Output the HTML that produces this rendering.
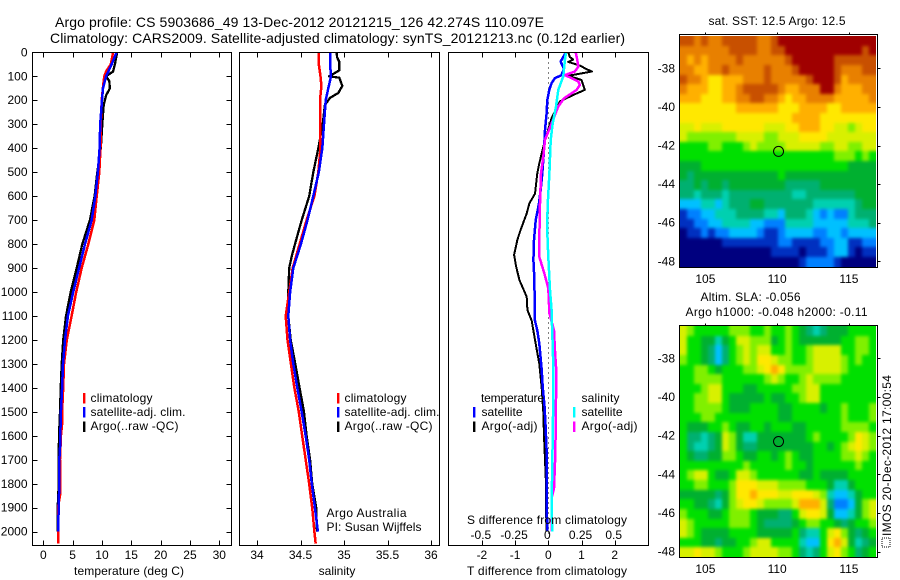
<!DOCTYPE html>
<html>
<head>
<meta charset="utf-8">
<title>Argo profile 5903686_49</title>
<style>
html,body{margin:0;padding:0;background:#fff;}
svg{display:block;}
text{font-family:"Liberation Sans",sans-serif;font-size:12px;fill:#000;}
</style>
</head>
<body>
<svg id="chart" xmlns="http://www.w3.org/2000/svg" width="900" height="580" viewBox="0 0 900 580">
  <defs>
    <filter id="cell-soften" filterUnits="userSpaceOnUse" x="660" y="0" width="240" height="580" color-interpolation-filters="sRGB">
      <feGaussianBlur stdDeviation="1.5"/>
    </filter>
  </defs>
  <rect x="0" y="0" width="900" height="580" fill="#fff"/>
  <text x="55" y="27" textLength="489" style="font-size:14px">Argo profile: CS 5903686_49 13-Dec-2012 20121215_126 42.274S 110.097E</text>
  <text x="50" y="43" textLength="575" style="font-size:14px">Climatology: CARS2009. Satellite-adjusted climatology: synTS_20121213.nc (0.12d earlier)</text>
  <g id="plots"></g>

  <text x="129" y="575" text-anchor="middle" textLength="110">temperature (deg C)</text>
  <text x="337" y="575" text-anchor="middle">salinity</text>
  <text x="547" y="575" text-anchor="middle" textLength="160">T difference from climatology</text>
  <text x="547" y="524" text-anchor="middle" textLength="160">S difference from climatology</text>

  <g>
    <rect x="83" y="393" width="2.4" height="10.5" fill="#f00"/>
    <text x="90.5" y="402" textLength="62">climatology</text>
    <rect x="83" y="407" width="2.4" height="10.5" fill="#00f"/>
    <text x="90.5" y="416" textLength="95">satellite-adj. clim.</text>
    <rect x="83" y="421.5" width="2.4" height="10.5" fill="#000"/>
    <text x="90.5" y="430" textLength="88">Argo(..raw -QC)</text>
  </g>
  <g>
    <rect x="337" y="393" width="2.4" height="10.5" fill="#f00"/>
    <text x="344.5" y="402" textLength="62">climatology</text>
    <rect x="337" y="407" width="2.4" height="10.5" fill="#00f"/>
    <text x="344.5" y="416" textLength="95">satellite-adj. clim.</text>
    <rect x="337" y="421.5" width="2.4" height="10.5" fill="#000"/>
    <text x="344.5" y="430" textLength="88">Argo(..raw -QC)</text>
    <text x="326.5" y="517" textLength="80">Argo Australia</text>
    <text x="326.5" y="531" textLength="95">PI: Susan Wijffels</text>
  </g>
  <g>
    <text x="481" y="402" textLength="63">temperature</text>
    <rect x="473" y="407" width="2.4" height="10.5" fill="#00f"/>
    <text x="481.5" y="416" textLength="41">satellite</text>
    <rect x="473" y="421.5" width="2.4" height="10.5" fill="#000"/>
    <text x="481.5" y="430" textLength="56">Argo(-adj)</text>
    <text x="581.5" y="402" textLength="38">salinity</text>
    <rect x="573" y="407" width="2.4" height="10.5" fill="#0ff"/>
    <text x="581.5" y="416" textLength="41">satellite</text>
    <rect x="573" y="421.5" width="2.4" height="10.5" fill="#f0f"/>
    <text x="581.5" y="430" textLength="56">Argo(-adj)</text>
  </g>

  <text x="777" y="25" text-anchor="middle" textLength="137">sat. SST: 12.5 Argo: 12.5</text>
  <text x="700.5" y="301" textLength="100">Altim. SLA: -0.056</text>
  <text x="685.5" y="316" textLength="182">Argo h1000: -0.048 h2000: -0.11</text>

  <rect x="882" y="538" width="8" height="9" fill="none" stroke="#000" stroke-width="1" stroke-dasharray="1 1"/>
  <text transform="translate(891 536) rotate(-90)" textLength="161">IMOS 20-Dec-2012 17:00:54</text>
</svg>
<script>
// ---- tick labels ----
const depthTicks = [0,100,200,300,400,500,600,700,800,900,1000,1100,1200,1300,1400,1500,1600,1700,1800,1900,2000];
const tempTicks = [0,5,10,15,20,25,30];
const salTicks = [34,34.5,35,35.5,36];
const tDiffTicks = [-2,-1,0,1,2];
const sDiffTicks = [-0.5,-0.25,0,0.25,0.5];
const lonTicks = [105,110,115];
const latTicks = [-38,-40,-42,-44,-46,-48];
const argoLon = 110.097;
const argoLat = -42.274;

// ---- temperature profiles ----
const tempClimDepth = [0,50,80,100,140,200,300,400,500,600,700,800,900,1000,1100,1200,1300,1400,1500,1550,1600,1700,1800,1850,1900,2000,2050];
const tempClimValues = [11.9,11.5,10.7,10.4,10.2,9.95,9.8,9.75,9.55,9.1,8.7,7.67,6.55,5.6,4.83,4.0,3.53,3.4,3.2,3.2,3.0,2.85,2.85,2.85,2.5,2.5,2.5];
const tempSatDepth = [0,50,100,150,200,300,400,500,600,700,800,900,1000,1100,1200,1300,1400,1500,1600,1650,1700,1800,1900,2000];
const tempSatValues = [12.5,11.65,10.7,10.17,10.0,9.7,9.6,9.3,8.87,8.25,7.1,6.1,5.1,4.2,3.7,3.35,3.2,3.0,2.9,2.85,2.73,2.73,2.6,2.55];
const tempArgoDepth = [0,50,80,100,120,150,180,220,300,400,500,600,700,800,900,1000,1100,1200,1300,1400,1500,1600,1700,1800,1900,2000];
const tempArgoValues = [12.6,12.2,11.9,10.7,11.25,11.35,10.7,10.3,10.05,9.8,9.2,8.75,7.95,6.65,5.7,4.67,3.87,3.4,3.13,2.96,2.85,2.67,2.62,2.62,2.45,2.45];

// ---- salinity profiles ----
const salClimDepth = [0,50,100,140,200,300,400,500,600,700,800,900,1000,1100,1200,1300,1400,1500,1600,1700,1800,1900,2000,2050];
const salClimValues = [34.71,34.71,34.73,34.74,34.724,34.724,34.73,34.705,34.66,34.57,34.49,34.41,34.37,34.33,34.35,34.39,34.43,34.48,34.52,34.56,34.6,34.635,34.66,34.675];
const salSatDepth = [0,50,100,150,200,300,400,500,600,700,800,900,1000,1100,1200,1300,1400,1500,1600,1700,1800,1900,2000];
const salSatValues = [34.84,34.84,34.85,34.82,34.79,34.77,34.75,34.71,34.647,34.58,34.505,34.417,34.38,34.36,34.38,34.417,34.463,34.514,34.56,34.6,34.63,34.665,34.7];
const salArgoDepth = [0,20,40,75,85,100,106,140,170,190,220,300,400,500,600,700,800,850,900,1000,1100,1200,1300,1400,1500,1600,1700,1800,1900,2000];
const salArgoValues = [34.916,34.92,34.946,34.946,34.9,34.83,34.946,34.98,34.935,34.84,34.78,34.755,34.705,34.647,34.6,34.514,34.437,34.4,34.37,34.36,34.36,34.387,34.44,34.49,34.54,34.57,34.61,34.635,34.68,34.69];

// ---- differences from climatology ----
const tDiffSatDepth = [0,39,67,95,108,129,157,199,255,324,408,505,574,630,700,783,866,950,1075,1120,1160,1215,1325,1395,1480,1560,1660,1760,1870,2000];
const tDiffSatValues = [0.53,0.37,0.47,0.40,0.20,0.10,0.03,-0.03,-0.05,-0.10,-0.13,-0.18,-0.23,-0.28,-0.38,-0.43,-0.45,-0.42,-0.41,-0.40,-0.33,-0.27,-0.20,-0.17,-0.11,-0.08,-0.05,-0.05,-0.05,-0.03];
const tDiffArgoDepth = [0,20,30,40,55,70,80,88,98,115,157,178,205,275,366,463,505,590,630,672,740,782,845,893,950,1020,1075,1120,1200,1300,1400,1500,1600,1700,1800,1900,2000];
const tDiffArgoValues = [0.60,0.65,0.75,0.60,0.95,1.15,1.31,1.0,0.6,1.0,1.10,0.75,0.35,0.10,-0.10,-0.27,-0.33,-0.40,-0.57,-0.65,-0.83,-0.93,-1.03,-0.97,-0.87,-0.65,-0.63,-0.5,-0.40,-0.27,-0.2,-0.15,-0.13,-0.1,-0.07,-0.07,-0.05];
const sDiffSatDepth = [0,32,100,157,226,296,366,505,644,741,853,992,1075,1100,1170,1310,1450,1590,1730,1870,2000];
const sDiffSatValues = [0.133,0.125,0.113,0.075,0.058,0.033,0.018,0.008,-0.005,-0.008,0,0.013,0.025,0.025,0.03,0.038,0.038,0.033,0.03,0.025,0.03];
const sDiffArgoDepth = [0,32,60,80,95,108,122,136,157,192,226,296,366,435,505,644,783,853,922,984,1089,1160,1240,1330,1450,1590,1680,1820,1860,2000];
const sDiffArgoValues = [0.206,0.218,0.226,0.2,0.125,0.176,0.226,0.238,0.213,0.118,0.075,0.025,-0.025,-0.038,-0.055,-0.063,-0.068,-0.068,-0.03,0,0.008,0.043,0.05,0.06,0.058,0.055,0.053,0.043,0.025,0.025];

// ---- map cells, north to south, as colour-scale levels ----
const sstCells = [
[13,13,12,13,12,12,13,13,13,13,13,12,12,13,14,14,14,14,14,14,14,14,14,14,14,14,14,14],
[12,12,12,12,12,12,12,13,13,13,13,12,12,13,13,14,14,14,14,14,14,14,14,14,14,14,13,14],
[12,11,12,11,12,12,12,12,13,12,12,12,12,12,12,13,14,14,14,14,14,14,13,13,13,13,13,13],
[12,12,11,11,12,12,13,12,12,12,12,12,13,12,12,12,13,14,14,14,14,14,13,12,12,12,13,13],
[13,12,12,11,10,10,11,11,11,12,12,12,13,12,12,12,12,12,13,14,14,14,13,11,12,12,12,12],
[12,11,11,11,10,10,11,11,12,13,13,13,13,13,12,11,11,12,12,12,14,14,12,11,11,11,12,12],
[11,11,11,10,10,10,11,11,12,12,13,13,12,12,11,10,11,11,12,12,12,12,11,11,11,11,11,12],
[10,10,10,10,10,10,10,10,11,11,11,11,11,11,10,10,10,11,11,11,11,10,10,11,11,11,11,11],
[10,10,10,10,10,10,10,10,10,10,10,10,10,10,10,10,11,11,11,11,10,10,10,10,10,10,10,10],
[9,9,10,9,9,9,10,10,10,10,10,10,9,9,9,10,10,11,11,11,10,10,9,9,8,9,10,10],
[9,8,8,8,8,8,8,8,9,9,9,9,8,8,9,9,9,10,10,10,10,9,9,9,9,9,9,9],
[7,7,7,7,8,8,7,7,7,8,9,8,8,8,8,9,9,9,9,9,8,8,9,9,8,8,9,9],
[7,7,7,7,7,7,7,7,7,7,7,7,7,7,7,7,7,7,7,7,7,7,8,8,8,7,8,7],
[6,6,6,7,7,7,7,7,7,7,7,7,7,7,7,7,7,7,7,7,7,7,7,7,6,6,6,6],
[6,5,6,6,6,6,6,6,6,6,6,6,6,6,7,6,6,6,6,6,6,6,6,6,6,6,6,6],
[5,5,6,5,6,6,5,6,6,6,6,6,6,6,6,5,5,5,5,5,6,6,6,6,6,6,6,6],
[5,5,4,5,5,5,4,5,5,5,5,5,5,5,5,5,4,4,5,5,5,5,5,5,5,6,6,6],
[3,3,3,4,4,3,4,5,5,5,6,6,5,5,5,5,5,5,5,4,4,4,4,4,4,5,6,6],
[1,2,2,3,3,4,4,4,5,5,5,5,4,4,3,5,5,5,4,3,2,3,2,2,4,5,5,5],
[1,1,2,2,3,3,4,4,4,4,3,3,2,2,2,4,4,4,4,3,3,3,3,3,4,4,4,5],
[0,1,1,2,1,2,2,3,3,3,3,2,1,1,2,3,3,3,3,2,2,3,3,2,3,3,3,3],
[0,0,0,0,0,0,1,1,1,1,1,1,1,1,2,2,1,1,1,1,2,2,3,3,1,1,2,2],
[0,0,0,0,0,0,0,0,0,0,0,0,0,1,1,1,1,0,1,1,1,2,3,3,1,0,1,1],
[0,0,0,0,0,0,0,0,0,0,0,0,0,0,0,0,0,1,2,2,2,2,1,0,0,0,0,0]
];
const slaCells = [
[9,8,7,7,7,7,7,8,8,8,7,7,8,7,7,8,7,6,5,4,5,6,6,6,7,7,7,7],
[9,7,7,6,6,4,6,7,9,9,8,8,8,6,7,8,7,6,6,6,6,6,6,7,7,8,8,7],
[9,7,7,6,5,3,5,7,8,9,8,9,9,7,7,8,7,7,8,9,9,9,9,7,7,8,8,7],
[8,7,7,6,5,3,5,7,8,9,8,10,10,9,8,8,7,7,8,9,9,9,9,8,7,8,7,7],
[7,7,8,8,7,6,7,7,7,8,8,9,10,11,10,8,8,8,8,9,9,9,9,8,7,7,7,7],
[7,7,8,8,8,8,7,7,7,7,7,7,8,9,8,7,7,8,9,8,8,8,8,7,7,7,7,7],
[7,7,7,8,9,9,7,7,7,6,6,7,7,7,7,7,8,8,9,9,7,7,7,7,7,7,7,7],
[7,7,8,8,9,9,7,6,6,6,6,6,7,6,6,7,7,8,9,9,7,7,7,7,7,7,7,7],
[7,7,8,8,8,8,7,6,6,6,7,7,7,7,6,6,7,7,7,7,6,7,7,8,7,7,7,8],
[7,7,7,8,8,7,7,7,7,7,7,7,7,7,6,6,7,7,7,7,7,7,7,8,7,7,7,8],
[7,6,6,6,7,7,8,7,6,6,7,7,6,7,7,7,6,6,7,7,7,7,7,8,8,8,8,7],
[7,5,5,4,5,6,9,8,6,4,4,6,6,6,6,6,6,6,7,8,7,7,7,7,8,10,9,8],
[7,5,4,4,5,6,9,8,6,5,5,6,6,6,6,6,6,6,6,7,7,6,7,8,9,10,9,8],
[7,6,5,5,6,6,8,8,7,6,6,7,7,6,7,8,7,6,6,7,7,7,7,8,8,9,8,7],
[7,7,7,7,7,7,7,7,7,8,7,7,7,7,7,8,7,7,6,7,7,7,7,7,7,8,7,7],
[7,8,9,9,7,6,6,7,9,9,8,7,7,7,7,7,7,6,6,7,6,6,6,6,7,7,7,7],
[7,7,8,8,7,7,7,8,10,10,10,9,9,9,8,8,8,8,7,7,7,6,4,4,6,7,7,7],
[6,6,6,6,6,5,6,8,10,10,11,10,10,10,9,9,10,10,10,9,8,4,3,3,4,6,7,7],
[7,7,6,6,5,4,6,8,9,10,10,9,8,8,8,8,9,11,11,11,9,5,2,2,3,6,8,9],
[8,7,7,7,6,6,7,8,8,8,7,6,6,6,5,5,7,9,10,10,9,6,3,3,4,6,8,9],
[9,8,7,7,7,7,7,8,8,8,7,6,5,5,5,5,6,7,8,8,7,7,6,5,6,7,7,8],
[9,8,7,6,6,6,6,7,7,7,7,6,6,6,6,6,7,5,4,4,7,9,10,8,6,5,6,7],
[7,7,7,6,6,5,6,6,7,7,8,9,9,7,7,7,7,4,3,3,7,10,11,9,6,4,5,6],
[9,9,10,9,9,8,7,7,7,8,9,9,9,9,8,8,7,5,4,5,7,9,10,8,7,5,6,7]
];

// ---- drawing ----
const SVGNS = 'http://www.w3.org/2000/svg';
const plots = document.getElementById('plots');
const COLORS = ['#00007f','#0030c0','#0080ff','#00c0ff','#00d0b0','#00b070','#00b030','#00e000','#80f000','#d8f000','#ffe800','#ffb000','#e88000','#c85000','#a00000'];

function mk(tag, parent) {
  const el = document.createElementNS(SVGNS, tag);
  parent.appendChild(el);
  return el;
}
function line(parent, x1, y1, x2, y2) {
  const el = mk('line', parent);
  el.setAttribute('x1', x1); el.setAttribute('y1', y1);
  el.setAttribute('x2', x2); el.setAttribute('y2', y2);
  el.setAttribute('stroke', '#000');
  el.setAttribute('stroke-width', 1);
  el.setAttribute('shape-rendering', 'crispEdges');
  return el;
}
function label(parent, str, x, y, anchor) {
  const el = mk('text', parent);
  el.setAttribute('x', x); el.setAttribute('y', y);
  el.setAttribute('text-anchor', anchor);
  el.textContent = str;
  return el;
}
function frame(parent, b) {
  const el = mk('rect', parent);
  el.setAttribute('x', b.left); el.setAttribute('y', b.top);
  el.setAttribute('width', b.right - b.left);
  el.setAttribute('height', b.bottom - b.top);
  el.setAttribute('fill', 'none');
  el.setAttribute('stroke', '#000');
  el.setAttribute('shape-rendering', 'crispEdges');
  return el;
}
function linear(d0, d1, r0, r1) {
  return v => r0 + (v - d0) * (r1 - r0) / (d1 - d0);
}

const depthY = linear(0, 2000, 52.3, 531.7);
const PANEL_TOP = 52.5, PANEL_BOTTOM = 545.5;

function drawProfile(parent, name, xs, depths, values, color, width) {
  const pts = depths.map((d, i) => xs(values[i]).toFixed(1) + ',' + depthY(d).toFixed(1)).join(' ');
  const el = mk('polyline', parent);
  
  
  el.setAttribute('points', pts);
  el.setAttribute('fill', 'none');
  el.setAttribute('stroke', color);
  el.setAttribute('stroke-width', width);
  el.setAttribute('stroke-linejoin', 'round');
  el.setAttribute('shape-rendering', 'crispEdges');
}
function xTicks(parent, b, ticks, xs, fmt, baseline) {
  ticks.forEach(t => {
    const x = Math.round(xs(t)) + 0.5;
    const top = line(parent, x, b.top, x, b.top + 5);
    
    
    const bot = line(parent, x, b.bottom - 5, x, b.bottom);
    
    
    const lab = label(parent, fmt(t), xs(t), baseline, 'middle');
    
    
  });
}

// temperature panel
const p1 = {left:32.5, right:231.5, top:PANEL_TOP, bottom:PANEL_BOTTOM};
const tempX = linear(0, 30, 43.3, 219.3);
const g1 = mk('g', plots);


drawProfile(g1, 'temperature-argo-line', tempX, tempArgoDepth, tempArgoValues, '#000', 2.3);
drawProfile(g1, 'temperature-climatology-line', tempX, tempClimDepth, tempClimValues, '#f00', 2.5);
drawProfile(g1, 'temperature-satellite-line', tempX, tempSatDepth, tempSatValues, '#00f', 2.5);
frame(g1, p1);
xTicks(g1, p1, tempTicks, tempX, String, 559);
depthTicks.forEach(d => {
  const y = Math.round(depthY(d)) + 0.5;
  const l = line(g1, p1.left, y, p1.left + 5, y);
  
  
  const r = line(g1, p1.right - 5, y, p1.right, y);
  
  
  const lab = label(g1, String(d), 27.5, depthY(d) + 4, 'end');
  
  
});

// salinity panel
const p2 = {left:239.5, right:439.5, top:PANEL_TOP, bottom:PANEL_BOTTOM};
const salX = linear(34, 36, 257, 431);
const g2 = mk('g', plots);


drawProfile(g2, 'salinity-argo-line', salX, salArgoDepth, salArgoValues, '#000', 2.3);
drawProfile(g2, 'salinity-climatology-line', salX, salClimDepth, salClimValues, '#f00', 2.5);
drawProfile(g2, 'salinity-satellite-line', salX, salSatDepth, salSatValues, '#00f', 2.5);
frame(g2, p2);
xTicks(g2, p2, salTicks, salX, String, 559);

// difference panel
const p3 = {left:448.5, right:648.5, top:PANEL_TOP, bottom:PANEL_BOTTOM};
const tDiffX = linear(-2, 2, 481.9, 614.7);
const sDiffX = linear(-0.5, 0.5, 481.9, 614.7);
const g3 = mk('g', plots);


const zero = line(g3, tDiffX(0), p3.top, tDiffX(0), p3.bottom);


zero.setAttribute('stroke-dasharray', '1 4');
drawProfile(g3, 'difference-t-argo-line', tDiffX, tDiffArgoDepth, tDiffArgoValues, '#000', 2);
drawProfile(g3, 'difference-t-satellite-line', tDiffX, tDiffSatDepth, tDiffSatValues, '#00f', 2.5);
drawProfile(g3, 'difference-s-argo-line', sDiffX, sDiffArgoDepth, sDiffArgoValues, '#f0f', 2.5);
drawProfile(g3, 'difference-s-satellite-line', sDiffX, sDiffSatDepth, sDiffSatValues, '#0ff', 2.5);
frame(g3, p3);
xTicks(g3, p3, tDiffTicks, tDiffX, String, 559);
sDiffTicks.forEach(t => {
  const lab = label(g3, String(t), sDiffX(t) - 1, 539, 'middle');
  
  
});

// maps
const LON_MIN = 103.2, LON_MAX = 116.9, LAT_TOP = -36.33, LAT_BOTTOM = -48.28;
function drawMap(name, cellName, clipId, cells, frameBox, imgTop, imgBottom, lat38Y, lat48Y, lonBaseline) {
  const g = mk('g', plots);
  
  
  const lonX = linear(105, 115, 705.4, 848.9);
  const latY = linear(-38, -48, lat38Y, lat48Y);
  const rows = cells.length, cols = cells[0].length;
  const dLon = (LON_MAX - LON_MIN) / cols;
  const dLat = (LAT_BOTTOM - LAT_TOP) / rows;

  const clip = mk('clipPath', g);
  clip.setAttribute('id', clipId);
  const clipRect = mk('rect', clip);
  clipRect.setAttribute('x', frameBox.left);
  clipRect.setAttribute('y', imgTop);
  clipRect.setAttribute('width', 876 - frameBox.left);
  clipRect.setAttribute('height', imgBottom - imgTop);

  const clipped = mk('g', g);
  clipped.setAttribute('clip-path', 'url(#' + clipId + ')');
  const soft = mk('g', clipped);
  soft.setAttribute('filter', 'url(#cell-soften)');

  // edge cells run past the clip so the softening does not fade at the border
  const BLEED = 8;
  cells.forEach((row, r) => row.forEach((v, c) => {
    const x0 = Math.round(lonX(LON_MIN + c * dLon)) - (c === 0 ? BLEED : 0);
    const x1 = Math.round(lonX(LON_MIN + (c + 1) * dLon)) + (c === cols - 1 ? BLEED : 0);
    const y0 = Math.round(latY(LAT_TOP + r * dLat)) - (r === 0 ? BLEED : 0);
    const y1 = Math.round(latY(LAT_TOP + (r + 1) * dLat)) + (r === rows - 1 ? BLEED : 0);
    const el = mk('rect', soft);
    
    
    el.setAttribute('x', x0); el.setAttribute('y', y0);
    el.setAttribute('width', x1 - x0); el.setAttribute('height', y1 - y0);
    el.setAttribute('fill', COLORS[Math.max(0, Math.min(COLORS.length - 1, Math.round(v)))]);
    el.setAttribute('shape-rendering', 'crispEdges');
  }));
  frame(g, frameBox);
  lonTicks.forEach(t => {
    const x = Math.round(lonX(t)) + 0.5;
    const tk = line(g, x, frameBox.top - 2, x, frameBox.top);
    
    
    const lab = label(g, String(t), lonX(t), lonBaseline, 'middle');
    
    
  });
  latTicks.forEach(t => {
    const y = Math.round(latY(t)) + 0.5;
    const tk = line(g, frameBox.right, y, frameBox.right + 3, y);
    
    
    const lab = label(g, String(t), 675, latY(t) + 4, 'end');
    
    
  });
  const dot = mk('circle', g);
  
  
  dot.setAttribute('cx', lonX(argoLon));
  dot.setAttribute('cy', latY(argoLat) + 0.6);
  dot.setAttribute('r', 5);
  dot.setAttribute('fill', 'none');
  dot.setAttribute('stroke', '#000');
  dot.setAttribute('stroke-width', 1);
}
drawMap('sst-map', 'sst-cell', 'sst-clip', sstCells, {left:679.5, right:877.5, top:34.5, bottom:267.5}, 36, 267, 68.3, 261.3, 283);
drawMap('sla-map', 'sla-cell', 'sla-clip', slaCells, {left:679.5, right:877.5, top:325.5, bottom:557.5}, 326, 557, 358.3, 551.7, 573);
</script>
</body>
</html>
